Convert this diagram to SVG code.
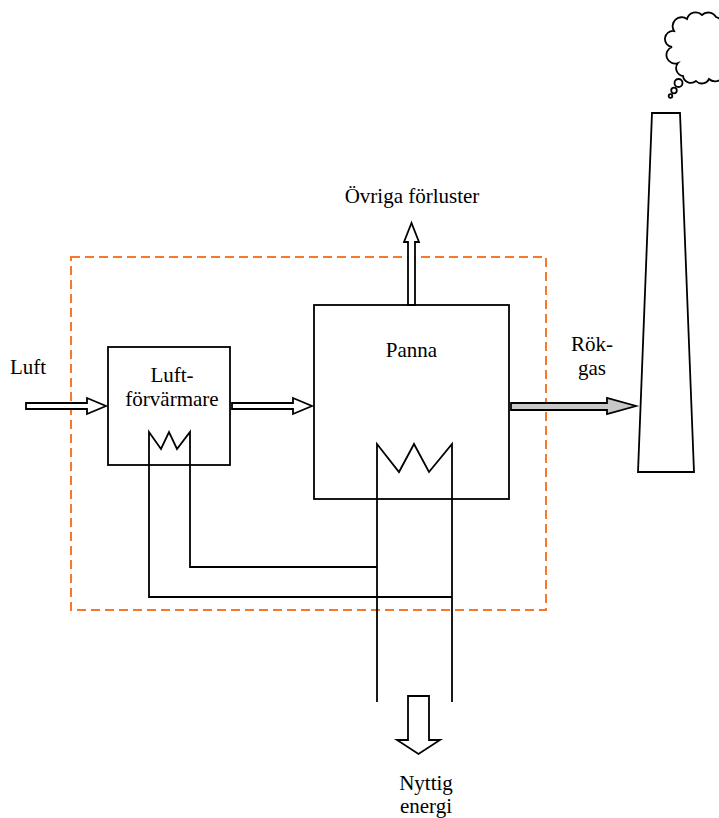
<svg xmlns="http://www.w3.org/2000/svg" width="719" height="818" viewBox="0 0 719 818">
<style>
  text { font-family: "Liberation Serif", "Times New Roman", serif; font-size: 21px; fill: #000; }
  .box { fill: #fff; stroke: #000; stroke-width: 1.8; }
  .line { fill: none; stroke: #000; stroke-width: 1.8; }
  .arrow { fill: #fff; stroke: #000; stroke-width: 1.8; stroke-linejoin: miter; }
  .grey { fill: #c8c8c8; }
  .boundary { fill: none; stroke: #F47A2A; stroke-width: 2; stroke-dasharray: 9 5; }
</style>
<rect width="719" height="818" fill="#fff"/>

<g id="boundary">
  <rect class="boundary" x="71" y="257" width="475" height="353"/>
</g>

<g id="chimney">
  <polygon class="box" points="652,113 680,113 694,472 638,472"/>
</g>

<g id="cloud">
  <path class="line" stroke-width="2" d="M672,47 a7,7 0 0 1 2,-16 a9,9 0 0 1 13,-12 a9,9 0 0 1 15,-4 a9,9 0 0 1 14,2 a9,9 0 0 1 5,14 l0,35 a8,8 0 0 1 -12,13 a8,8 0 0 1 -13,2 a8,8 0 0 1 -13,-5 a8,8 0 0 1 -5,-13 a7,7 0 0 1 -6,-16 z"/>
  <circle class="line" stroke-width="2" cx="678.5" cy="83" r="4"/>
  <circle class="line" stroke-width="2" cx="674" cy="90.5" r="2.8"/>
  <circle class="line" stroke-width="2" cx="670.5" cy="96" r="1.8"/>
</g>

<g id="luftforvarmare">
  <rect class="box" x="108" y="347" width="122" height="118"/>
  <text x="172" y="382" text-anchor="middle">Luft-</text>
  <text x="172" y="406" text-anchor="middle">förvärmare</text>
  <polyline class="line" points="149,465 149,432 161,449 169,432 177,449 190,432 190,465"/>
</g>

<g id="panna">
  <rect class="box" x="314" y="305" width="195" height="194"/>
  <text x="411.5" y="357" text-anchor="middle">Panna</text>
  <polyline class="line" points="377,499 377,444 399,472 414,444 429,472 452,444 452,499"/>
</g>

<g id="connectors">
  <polyline class="line" points="149,465 149,597 452,597"/>
  <polyline class="line" points="190,465 190,567 377,567"/>
  <line class="line" x1="377" y1="499" x2="377" y2="702"/>
  <line class="line" x1="452" y1="499" x2="452" y2="702"/>
  <polygon class="arrow" points="26,403 87,403 87,398 106,406 87,414 87,409 26,409"/>
  <polygon class="arrow" points="232,403 293,403 293,398 312,406 293,414 293,409 232,409"/>
  <polygon class="arrow grey" points="511,403 607,403 607,398 636,406 607,414 607,410 511,410"/>
  <polygon class="arrow" points="408,305 408,242 404,242 411.5,223 419,242 415,242 415,305"/>
  <polygon class="arrow" points="408,696 429,696 429,740 440,740 418.5,754 397,740 408,740"/>
</g>

<g id="labels">
  <text x="10" y="374">Luft</text>
  <text x="412" y="203" text-anchor="middle">Övriga förluster</text>
  <text x="592" y="351" text-anchor="middle">Rök-</text>
  <text x="592" y="375" text-anchor="middle">gas</text>
  <text x="426" y="790" text-anchor="middle">Nyttig</text>
  <text x="426" y="813" text-anchor="middle">energi</text>
</g>
</svg>
